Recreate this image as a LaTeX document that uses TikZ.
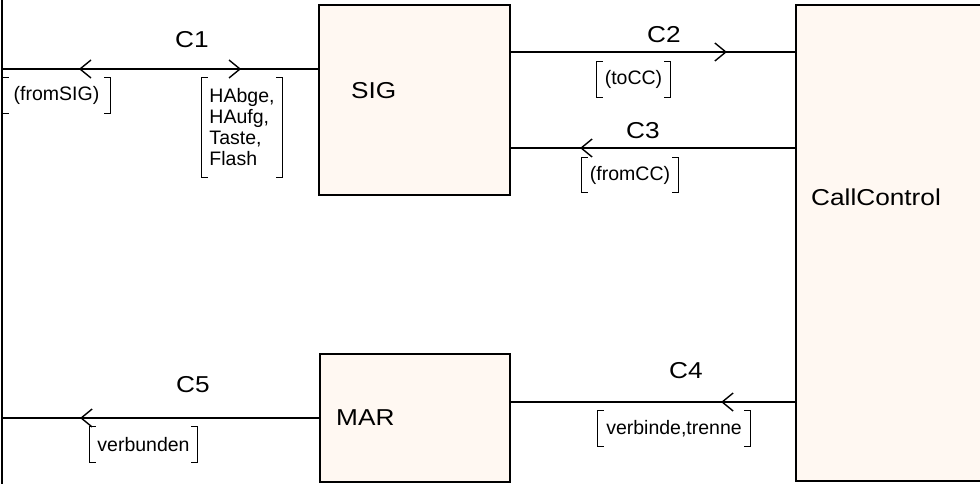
\documentclass[tikz,border=0pt]{standalone}
\usepackage{fontspec}
\setmainfont{Liberation Sans}
\newfontfamily\bigfont[FakeStretch=1.14]{Liberation Sans}
\usetikzlibrary{decorations.markings}
\definecolor{boxfill}{RGB}{255,248,242}
\newcommand\bracketsof[1]{%
  \draw[brk] ([xshift=6pt]#1.north west) -- (#1.north west) -- (#1.south west) -- ([xshift=6pt]#1.south west);
  \draw[brk] ([xshift=-6pt]#1.north east) -- (#1.north east) -- (#1.south east) -- ([xshift=-6pt]#1.south east);}
\tikzset{
  blk/.style={draw, line width=1.7pt, fill=boxfill, inner sep=0pt},
  conn/.style={line width=1.4pt},
  brk/.style={line width=1.3pt},
  big/.style={font=\bigfont\fontsize{23}{27}\selectfont, inner sep=0pt},
  small/.style={font=\fontsize{19.5}{21}\selectfont, inner sep=0pt, align=left, minimum height=35pt},
  fwd/.style={postaction={decorate, decoration={markings, mark=at position #1 with {\draw[line width=1.4pt] (-11pt,9pt) -- (0pt,0pt) -- (-11pt,-9pt);}}}},
  bwd/.style={postaction={decorate, decoration={markings, mark=at position #1 with {\draw[line width=1.4pt] (11pt,9pt) -- (0pt,0pt) -- (11pt,-9pt);}}}},
}
\begin{document}
\begin{tikzpicture}[x=1pt,y=-1pt]
\clip (0,0) rectangle (980,484);
% blocks
\node[blk, minimum width=191pt, minimum height=190pt] (sig) at (414.5,100) {};
\node[blk, minimum width=190pt, minimum height=128pt] (mar) at (415,418) {};
\node[blk, minimum width=200pt, minimum height=476pt] (cc) at (896,243) {};
\node[big, anchor=west] (sigt) at (351,90.5) {SIG};
\node[big, anchor=west] (mart) at (336,418) {MAR};
\node[big, anchor=west] (cct) at (811,197) {CallControl};
% frame
\coordinate (ft) at (2,0);
\coordinate (fb) at (2,484);
\draw[line width=1.7pt] (ft) -- (fb);
% levels
\coordinate (y1) at (2,69);
\coordinate (y2) at (0,52);
\coordinate (y3) at (0,148);
\coordinate (y4) at (0,402);
\coordinate (y5) at (2,418);
% connectors
\draw[conn, fwd=238pt, bwd=78pt] (y1) -- (y1 -| sig.west);
\draw[conn, fwd=215pt] (sig.east |- y2) -- (cc.west |- y2);
\draw[conn, fwd=214pt] (cc.west |- y3) -- (sig.east |- y3);
\draw[conn, fwd=73pt] (cc.west |- y4) -- (mar.east |- y4);
\draw[conn, fwd=238pt] (mar.west |- y5) -- (y5);
% channel names
\node[big] (c1) at (192,39.5) {C1};
\node[big] (c2) at (664,35) {C2};
\node[big] (c3) at (643,131) {C3};
\node[big] (c4) at (686,371) {C4};
\node[big] (c5) at (193,385) {C5};
% signal lists
\node[small, minimum width=107pt] (s1a) at (56.5,95.5) {(fromSIG)};
\node[small, minimum width=80pt, minimum height=99pt] (s1b) at (242,127.5) {HAbge,\\HAufg,\\Taste,\\Flash};
\node[small, minimum width=73pt] (s2) at (633.5,79.5) {(toCC)};
\node[small, minimum width=96pt] (s3) at (630,175) {(fromCC)};
\node[small, minimum width=152pt] (s4) at (674,428.5) {verbinde,trenne};
\node[small, minimum width=107pt] (s5) at (143.5,444.5) {verbunden};
\bracketsof{s1a}
\bracketsof{s1b}
\bracketsof{s2}
\bracketsof{s3}
\bracketsof{s4}
\bracketsof{s5}
\end{tikzpicture}
\end{document}
